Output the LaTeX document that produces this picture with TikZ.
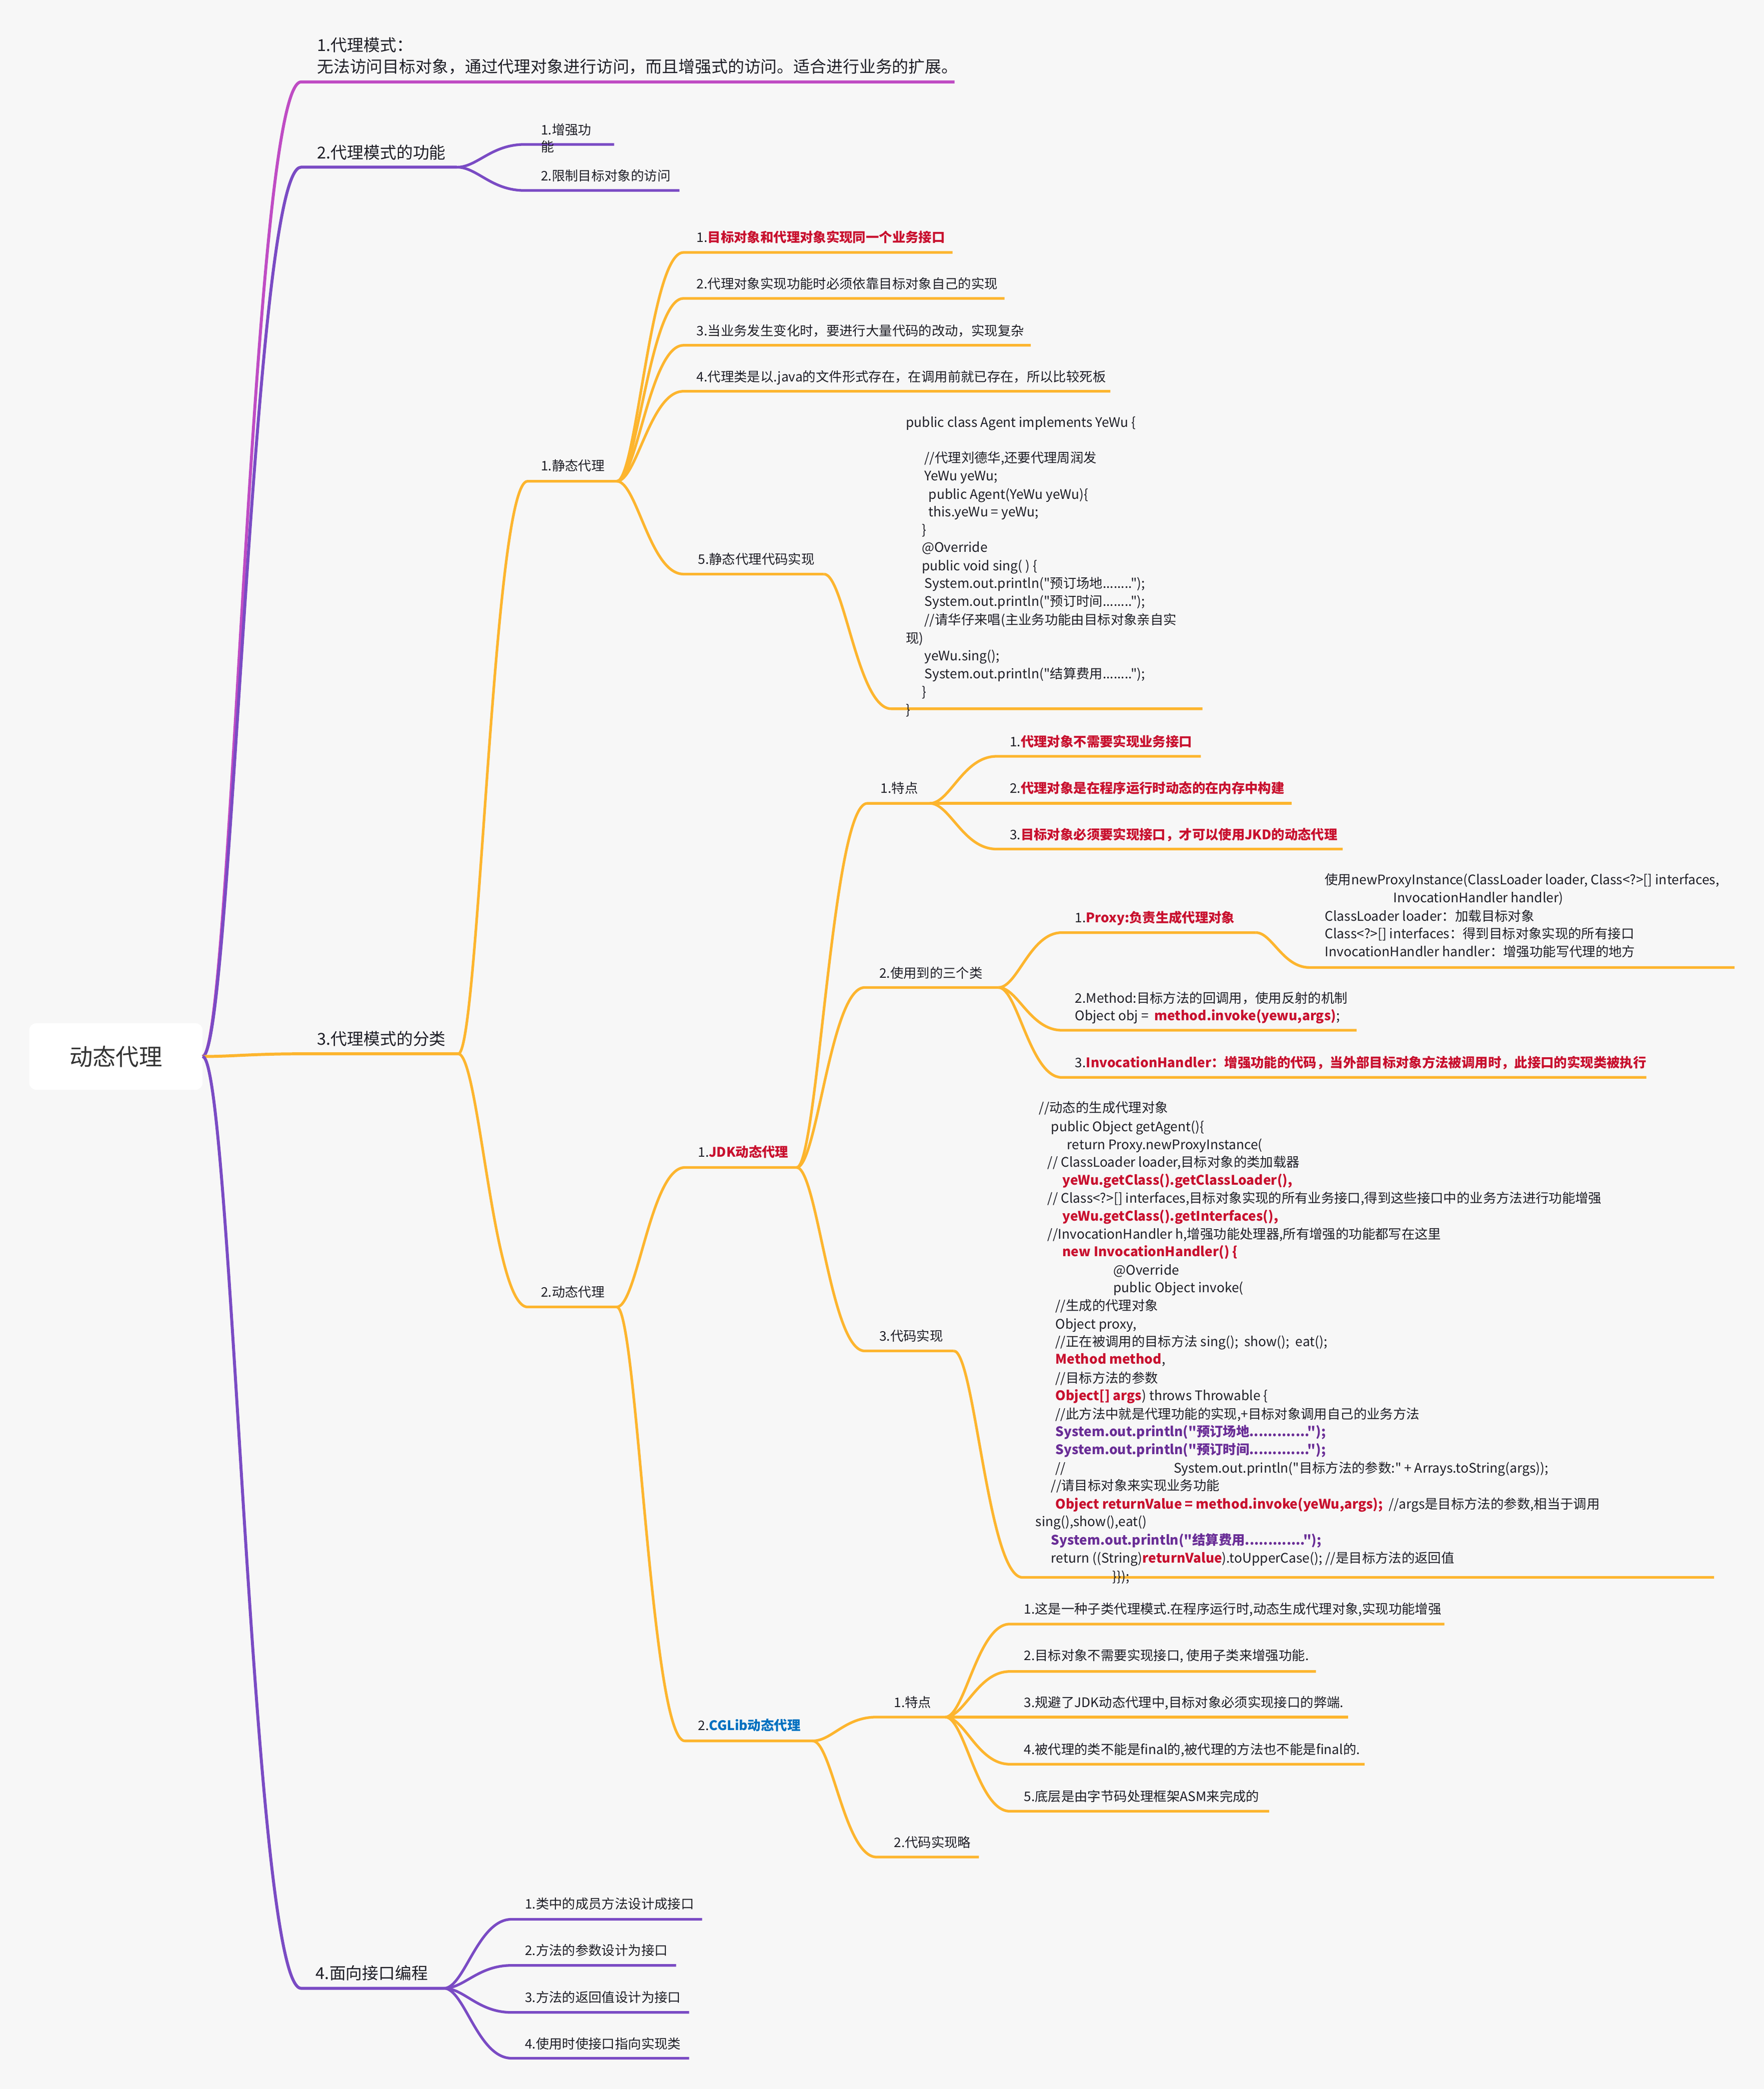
\documentclass[tikz,border=0pt]{standalone}
\usepackage{fontspec}
\newfontfamily\nf{Noto Sans CJK SC}
\usetikzlibrary{calc}
\definecolor{pinkb}{RGB}{191,76,196}
\definecolor{purpb}{RGB}{122,75,196}
\definecolor{orgb}{RGB}{253,181,46}
\definecolor{redt}{RGB}{200,16,46}
\definecolor{purt}{RGB}{105,45,150}
\definecolor{bluet}{RGB}{0,112,192}
\definecolor{bgc}{RGB}{247,247,247}
\definecolor{txtc}{RGB}{30,30,38}
\definecolor{rootc}{RGB}{51,51,51}
\newcommand\myred[1]{\textcolor{redt}{\bfseries #1}}
\newcommand\mypur[1]{\textcolor{purt}{\bfseries #1}}
\newcommand\mytx[4]{\node[ts] (#1) at (#2,#3+3.6) {#4};}
\newcommand\mytm[4]{\node[tm] (#1) at (#2,#3+4.5) {#4};}
\begin{document}
\begin{tikzpicture}[x=0.026647cm,y=-0.026647cm,
  ts/.style={anchor=base west, inner sep=0pt, outer sep=0pt, text=txtc, font=\nf\fontsize{7.5}{9}\selectfont},
  tm/.style={anchor=base west, inner sep=0pt, outer sep=0pt, text=txtc, font=\nf\fontsize{9.35}{11}\selectfont},
  lwa/.style={line width=1.7pt},
  lwb/.style={line width=1.5pt},
  mm/.style={to path={let \p1=(\tikztostart), \p2=(\tikztotarget), \n1={\x2-\x1} in
     .. controls ($(\p1)+(0.3*\n1,0pt)$) and ($(\p2)-(0.5*\n1,0pt)$) .. (\tikztotarget)}},
  rootbox/.style={fill=white, rounded corners=4pt, minimum width=98.6pt, minimum height=37.9pt,
     inner sep=0pt, outer sep=0pt, text=rootc, font=\nf\fontsize{13.2}{16}\selectfont}]
\useasboundingbox (0,0) rectangle (1324,1568);
\fill[bgc] (0,0) rectangle (1324,1568);

% ---------- underline coordinates ----------
\coordinate (b1s) at (226,61.5);   \coordinate (b1e) at (716.5,61.5);
\coordinate (b2s) at (226,125.5);  \coordinate (b2e) at (343,125.5);
\coordinate (b3s) at (226,791);    \coordinate (b3e) at (344,791);
\coordinate (b4s) at (226,1492.4); \coordinate (b4e) at (333.3,1492.4);
\coordinate (b2as) at (394,108.4); \coordinate (b2ae) at (461,108.4);
\coordinate (b2bs) at (394,143);   \coordinate (b2be) at (510,143);
\coordinate (sps) at (396,361.2);  \coordinate (spe) at (463,361.2);
\coordinate (s1s) at (513,189.5);  \coordinate (s1e) at (715,189.5);
\coordinate (s2s) at (513,224);    \coordinate (s2e) at (754,224);
\coordinate (s3s) at (513,259.2);  \coordinate (s3e) at (773.7,259.2);
\coordinate (s4s) at (513,293.7);  \coordinate (s4e) at (833.5,293.7);
\coordinate (s5s) at (513,430.9);  \coordinate (s5e) at (618.5,430.9);
\coordinate (s5cs) at (669,532);   \coordinate (s5ce) at (902.6,532);
\coordinate (dps) at (396,981);    \coordinate (dpe) at (463,981);
\coordinate (js) at (514,876.3);   \coordinate (je) at (598,876.3);
\coordinate (j1s) at (651,603);    \coordinate (j1e) at (698,603);
\coordinate (j1as) at (748,567.7); \coordinate (j1ae) at (901.4,567.7);
\coordinate (j1bs) at (748,603);   \coordinate (j1be) at (969.4,603);
\coordinate (j1cs) at (748,637.3); \coordinate (j1ce) at (1007.8,637.3);
\coordinate (j2s) at (649,741.2);  \coordinate (j2e) at (749.5,741.2);
\coordinate (j2as) at (797,700);   \coordinate (j2ae) at (942.7,700);
\coordinate (j2ds) at (983,726.2); \coordinate (j2de) at (1302,726.2);
\coordinate (j2bs) at (797,773.3); \coordinate (j2be) at (1018.3,773.3);
\coordinate (j2cs) at (797,808.7); \coordinate (j2ce) at (1235.8,808.7);
\coordinate (j3s) at (649,1014);   \coordinate (j3e) at (716,1014);
\coordinate (j3cs) at (767.5,1184);\coordinate (j3ce) at (1286.6,1184);
\coordinate (cs) at (514,1306.7);  \coordinate (ce) at (610,1306.7);
\coordinate (c1s) at (658,1288.8); \coordinate (c1e) at (709.6,1288.8);
\coordinate (c1as) at (758,1219);  \coordinate (c1ae) at (1084.2,1219);
\coordinate (c1bs) at (758,1254.6);\coordinate (c1be) at (987.8,1254.6);
\coordinate (c1cs) at (758,1288.8);\coordinate (c1ce) at (1011.8,1288.8);
\coordinate (c1ds) at (758,1324.2);\coordinate (c1de) at (1024.3,1324.2);
\coordinate (c1es) at (758,1359.5);\coordinate (c1ee) at (952.7,1359.5);
\coordinate (c2s) at (658,1393.9); \coordinate (c2e) at (734.8,1393.9);
\coordinate (b4as) at (384,1440.6);\coordinate (b4ae) at (527,1440.6);
\coordinate (b4bs) at (384,1475.2);\coordinate (b4be) at (507.5,1475.2);
\coordinate (b4cs) at (384,1510.5);\coordinate (b4ce) at (517.3,1510.5);
\coordinate (b4ds) at (384,1544.9);\coordinate (b4de) at (517.3,1544.9);

% ---------- root ----------
\node[rootbox] (root) at (87,793) {动态代理};

% ---------- connectors ----------
\draw[pinkb, lwa] (root.east) to[mm] (b1s) -- (b1e);
\draw[purpb, lwa] (root.east) to[mm] (b2s) -- (b2e);
\draw[orgb, lwa]  (root.east) to[mm] (b3s) -- (b3e);
\draw[purpb, lwa] (root.east) to[mm] (b4s) -- (b4e);

\draw[purpb, lwb] (b2e) to[mm] (b2as) -- (b2ae);
\draw[purpb, lwb] (b2e) to[mm] (b2bs) -- (b2be);

\begin{scope}[orgb, lwb]
\draw (b3e) to[mm] (sps) -- (spe);
\draw (b3e) to[mm] (dps) -- (dpe);
\draw (spe) to[mm] (s1s) -- (s1e);
\draw (spe) to[mm] (s2s) -- (s2e);
\draw (spe) to[mm] (s3s) -- (s3e);
\draw (spe) to[mm] (s4s) -- (s4e);
\draw (spe) to[mm] (s5s) -- (s5e);
\draw (s5e) to[mm] (s5cs) -- (s5ce);
\draw (dpe) to[mm] (js) -- (je);
\draw (dpe) to[mm] (cs) -- (ce);
\draw (je) to[mm] (j1s) -- (j1e);
\draw (je) to[mm] (j2s) -- (j2e);
\draw (je) to[mm] (j3s) -- (j3e);
\draw (j1e) to[mm] (j1as) -- (j1ae);
\draw (j1e) -- (j1bs) -- (j1be);
\draw (j1e) to[mm] (j1cs) -- (j1ce);
\draw (j2e) to[mm] (j2as) -- (j2ae);
\draw (j2ae) to[mm] (j2ds) -- (j2de);
\draw (j2e) to[mm] (j2bs) -- (j2be);
\draw (j2e) to[mm] (j2cs) -- (j2ce);
\draw (j3e) to[mm] (j3cs) -- (j3ce);
\draw (ce) to[mm] (c1s) -- (c1e);
\draw (ce) to[mm] (c2s) -- (c2e);
\draw (c1e) to[mm] (c1as) -- (c1ae);
\draw (c1e) to[mm] (c1bs) -- (c1be);
\draw (c1e) -- (c1cs) -- (c1ce);
\draw (c1e) to[mm] (c1ds) -- (c1de);
\draw (c1e) to[mm] (c1es) -- (c1ee);
\end{scope}

\begin{scope}[purpb, lwb]
\draw (b4e) to[mm] (b4as) -- (b4ae);
\draw (b4e) to[mm] (b4bs) -- (b4be);
\draw (b4e) to[mm] (b4cs) -- (b4ce);
\draw (b4e) to[mm] (b4ds) -- (b4de);
\end{scope}

% ---------- texts ----------
\mytm{t1a}{238}{33.8}{1.代理模式：}
\mytm{t1b}{238}{50}{无法访问目标对象，通过代理对象进行访问，而且增强式的访问。适合进行业务的扩展。}
\mytm{t2}{238}{114.5}{2.代理模式的功能}
\mytx{t2a1}{406}{97.6}{1.增强功}
\mytx{t2a2}{406}{110.2}{能}
\mytx{t2b}{406}{132}{2.限制目标对象的访问}
\mytm{t3}{238}{780}{3.代理模式的分类}
\mytx{sp}{406}{349.8}{1.静态代理}
\mytx{s1}{523}{178.3}{1.\myred{目标对象和代理对象实现同一个业务接口}}
\mytx{s2}{523}{213.2}{2.代理对象实现功能时必须依靠目标对象自己的实现}
\mytx{s3}{523}{248.3}{3.当业务发生变化时，要进行大量代码的改动，实现复杂}
\mytx{s4}{523}{282.7}{4.代理类是以.java的文件形式存在，在调用前就已存在，所以比较死板}
\mytx{s5}{524}{419.7}{5.静态代理代码实现}

\mytx{sc1}{680}{317}{public class Agent implements YeWu \{}
\mytx{sc2}{694}{343.8}{//代理刘德华,还要代理周润发}
\mytx{sc3}{694}{357}{YeWu yeWu;}
\mytx{sc4}{697}{371}{public Agent(YeWu yeWu)\{}
\mytx{sc5}{697}{384.2}{this.yeWu = yeWu;}
\mytx{sc6}{692}{397.5}{\}}
\mytx{sc7}{692}{411}{@Override}
\mytx{sc8}{692}{424.7}{public void sing( ) \{}
\mytx{sc9}{694}{438}{System.out.println("预订场地........");}
\mytx{sc10}{694}{451.5}{System.out.println("预订时间........");}
\mytx{sc11}{694}{465.2}{//请华仔来唱(主业务功能由目标对象亲自实}
\mytx{sc12}{680}{479}{现)}
\mytx{sc13}{694}{492.4}{yeWu.sing();}
\mytx{sc14}{694}{505.6}{System.out.println("结算费用........");}
\mytx{sc15}{692}{519.3}{\}}
\mytx{sc16}{680}{532.8}{\}}

\mytx{dp}{406}{970}{2.动态代理}
\mytx{jd}{524}{865}{1.\myred{JDK动态代理}}
\mytx{j1}{661}{591.7}{1.特点}
\mytx{j1a}{758}{556.6}{1.\myred{代理对象不需要实现业务接口}}
\mytx{j1b}{758}{591.7}{2.\myred{代理对象是在程序运行时动态的在内存中构建}}
\mytx{j1c}{758}{626.7}{3.\myred{目标对象必须要实现接口，才可以使用JKD的动态代理}}
\mytx{j2}{660}{730.5}{2.使用到的三个类}
\mytx{j2a}{807}{688.7}{1.\myred{Proxy:负责生成代理对象}}
\mytx{pd1}{994.5}{660.5}{使用newProxyInstance(ClassLoader loader, Class<?>[] interfaces,}
\mytx{pd2}{1046}{674}{InvocationHandler handler)}
\mytx{pd3}{994.5}{687.7}{ClassLoader loader：加载目标对象}
\mytx{pd4}{994.5}{701}{Class<?>[] interfaces：得到目标对象实现的所有接口}
\mytx{pd5}{994.5}{714.3}{InvocationHandler handler：增强功能写代理的地方}
\mytx{j2b1}{807}{749.3}{2.Method:目标方法的回调用，使用反射的机制}
\mytx{j2b2}{807}{762.4}{Object obj =\ \ \myred{method.invoke(yewu,args)};}
\mytx{j2c}{807}{797.5}{3.\myred{InvocationHandler：增强功能的代码，当外部目标对象方法被调用时，此接口的实现类被执行}}
\mytx{j3}{660}{1003}{3.代码实现}

\mytx{jc1}{780}{831.5}{//动态的生成代理对象}
\mytx{jc2}{789}{845.5}{public Object getAgent()\{}
\mytx{jc3}{801}{859}{return Proxy.newProxyInstance(}
\mytx{jc4}{786.4}{872.4}{// ClassLoader loader,目标对象的类加载器}
\mytx{jc5}{797.5}{885.7}{\myred{yeWu.getClass().getClassLoader(),}}
\mytx{jc6}{786.4}{899.5}{// Class<?>[] interfaces,目标对象实现的所有业务接口,得到这些接口中的业务方法进行功能增强}
\mytx{jc7}{797.5}{912.9}{\myred{yeWu.getClass().getInterfaces(),}}
\mytx{jc8}{786.4}{926.4}{//InvocationHandler h,增强功能处理器,所有增强的功能都写在这里}
\mytx{jc9}{797.5}{939.4}{\myred{new InvocationHandler() \{}}
\mytx{jc10}{835.8}{953.2}{@Override}
\mytx{jc11}{835.8}{966.6}{public Object invoke(}
\mytx{jc12}{792.3}{980}{//生成的代理对象}
\mytx{jc13}{792.3}{993.7}{Object proxy,}
\mytx{jc14}{792.3}{1007}{//正在被调用的目标方法 sing();\ \ show();\ \ eat();}
\mytx{jc15}{792.3}{1020.2}{\myred{Method method},}
\mytx{jc16}{792.3}{1034.5}{//目标方法的参数}
\mytx{jc17}{792.3}{1047.6}{\myred{Object[] args}) throws Throwable \{}
\mytx{jc18}{792.3}{1061.4}{//此方法中就是代理功能的实现,+目标对象调用自己的业务方法}
\mytx{jc19}{792.3}{1074.5}{\mypur{System.out.println("预订场地.............");}}
\mytx{jc20}{792.3}{1088}{\mypur{System.out.println("预订时间.............");}}
\mytx{jc21a}{792.3}{1102}{//}
\mytx{jc21b}{881}{1102}{System.out.println("目标方法的参数:" + Arrays.toString(args));}
\mytx{jc22}{789}{1115.2}{//请目标对象来实现业务功能}
\mytx{jc23}{792.3}{1129}{\myred{Object returnValue = method.invoke(yeWu,args);}\ \ //args是目标方法的参数,相当于调用}
\mytx{jc24}{777.4}{1142}{sing(),show(),eat()}
\mytx{jc25}{789}{1156}{\mypur{System.out.println("结算费用.............");}}
\mytx{jc26}{789}{1169.6}{return ((String)\myred{returnValue}).toUpperCase(); //是目标方法的返回值}
\mytx{jc27}{835}{1183.3}{\}\});}

\mytx{cg}{524}{1295}{2.\textcolor{bluet}{\bfseries CGLib动态代理}}
\mytx{cg1}{671}{1278}{1.特点}
\mytx{cg1a}{768.6}{1207.6}{1.这是一种子类代理模式.在程序运行时,动态生成代理对象,实现功能增强}
\mytx{cg1b}{768.6}{1242.8}{2.目标对象不需要实现接口, 使用子类来增强功能.}
\mytx{cg1c}{768.6}{1278}{3.规避了JDK动态代理中,目标对象必须实现接口的弊端.}
\mytx{cg1d}{768.6}{1313}{4.被代理的类不能是final的,被代理的方法也不能是final的.}
\mytx{cg1e}{768.6}{1348.4}{5.底层是由字节码处理框架ASM来完成的}
\mytx{cg2}{671}{1382.8}{2.代码实现略}

\mytm{t4}{237}{1481}{4.面向接口编程}
\mytx{t4a}{394}{1429.2}{1.类中的成员方法设计成接口}
\mytx{t4b}{394}{1464.2}{2.方法的参数设计为接口}
\mytx{t4c}{394}{1499.2}{3.方法的返回值设计为接口}
\mytx{t4d}{394}{1534.2}{4.使用时使接口指向实现类}
\end{tikzpicture}
\end{document}
